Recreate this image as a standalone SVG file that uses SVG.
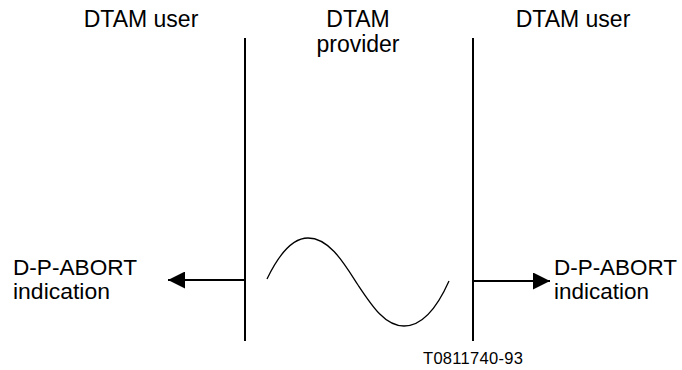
<svg xmlns="http://www.w3.org/2000/svg" width="682" height="370" viewBox="0 0 682 370">
<style>
text{font-family:"Liberation Sans",Arial,sans-serif;font-size:23px;fill:#000}
.c{text-anchor:middle}
.m{font-size:21.5px}
.s{font-size:16.5px}
.ln{stroke:#000;stroke-width:2;fill:none}
</style>
<defs>
<marker id="ah2" markerWidth="17" markerHeight="17" refX="17" refY="8.5" orient="auto" markerUnits="userSpaceOnUse" viewBox="0 0 17 17">
<path d="M0,0 L17,8.5 L0,17 Z" fill="#000"/>
</marker>
</defs>
<g id="left-user"><text class="c" x="141" y="27">DTAM user</text></g>
<g id="provider"><text class="c" x="358" y="27">DTAM</text><text class="c" x="358" y="52">provider</text></g>
<g id="right-user"><text class="c" x="573" y="27">DTAM user</text></g>
<g id="left-line"><line class="ln" x1="245" y1="38" x2="245" y2="341"/></g>
<g id="right-line"><line class="ln" x1="473" y1="38" x2="473" y2="341"/></g>
<g id="wave"><path d="M267,279 C280,252 293,238 308,238 C330,238 345,265 358,285 C372,306 385,326 404,326 C422,326 437,308 449,281" fill="none" stroke="#000" stroke-width="1.3"/></g>
<g id="left-ind"><text class="m" x="13" y="275" textLength="124" lengthAdjust="spacingAndGlyphs">D-P-ABORT</text><text class="m" x="13" y="299" textLength="97" lengthAdjust="spacingAndGlyphs">indication</text></g>
<g id="right-ind"><text class="m" x="554" y="275" textLength="123" lengthAdjust="spacingAndGlyphs">D-P-ABORT</text><text class="m" x="554" y="299" textLength="95" lengthAdjust="spacingAndGlyphs">indication</text></g>
<g id="connectors">
<line class="ln" x1="245" y1="280" x2="168" y2="280" marker-end="url(#ah2)"/>
<line class="ln" x1="473" y1="281" x2="550" y2="281" marker-end="url(#ah2)"/>
</g>
<g id="label"><text class="s" x="423" y="364" textLength="100">T0811740-93</text></g>
</svg>
